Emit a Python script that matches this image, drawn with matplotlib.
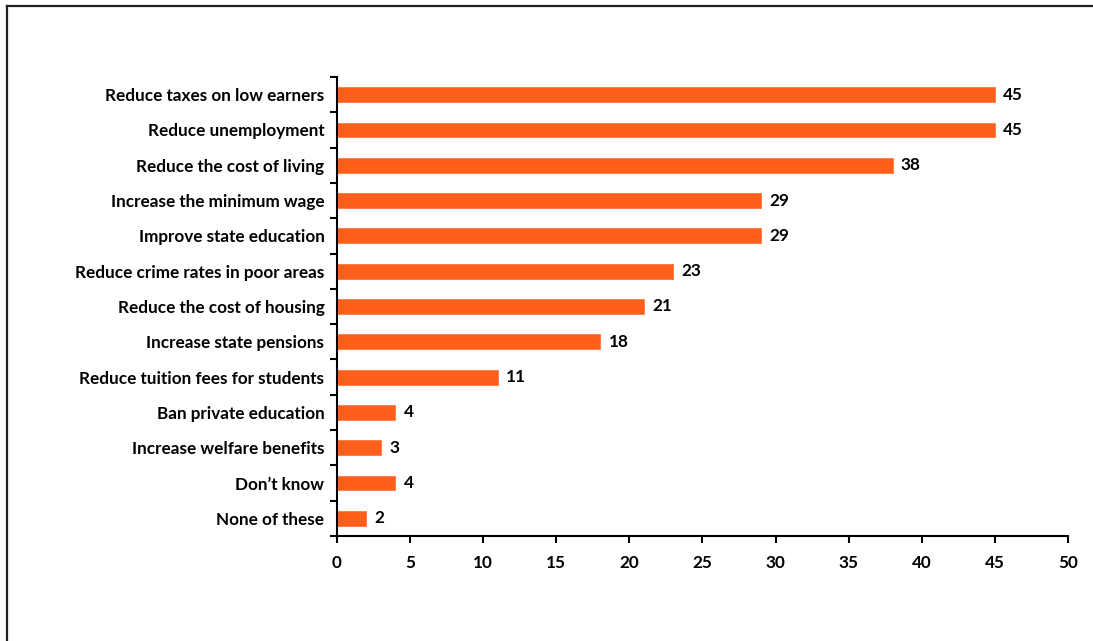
import matplotlib
matplotlib.use('Agg')
import matplotlib.pyplot as plt
from matplotlib.lines import Line2D
import numpy as np

plt.rcParams['font.family'] = ['Lato', 'DejaVu Sans']
plt.rcParams['font.weight'] = 'bold'

categorias = ['Reduce taxes on low earners', 'Reduce unemployment',
              'Reduce the cost of living', 'Increase the minimum wage',
              'Improve state education', 'Reduce crime rates in poor areas',
              'Reduce the cost of housing', 'Increase state pensions',
              'Reduce tuition fees for students', 'Ban private education',
              'Increase welfare benefits', 'Don\u2019t know', 'None of these']
valores = [45, 45, 38, 29, 29, 23, 21, 18, 11, 4, 3, 4, 2]
xticks = [0, 5, 10, 15, 20, 25, 30, 35, 40, 45, 50]

fs = 12.3
fig = plt.figure(figsize=(10.93, 6.41), dpi=100)
ax = fig.add_axes([0.3083, 0.1638, 0.6688, 0.7161])

y = np.arange(len(categorias))
ax.barh(y, valores, height=0.42, color='#FF5F1A', edgecolor='#FF7A40',
        linewidth=0.6, zorder=2)
for yi, v in zip(y, valores):
    ax.annotate(str(v), (v, yi), xytext=(6, 0), textcoords='offset points',
                va='center', ha='left', fontsize=fs, fontweight='bold')

ax.set_ylim(len(categorias) - 0.5, -0.5)
ax.set_xlim(0, 50)
ax.set_xticks(xticks)
ax.set_xticklabels([str(t) for t in xticks], fontsize=fs, fontweight='bold')
ax.tick_params(axis='x', direction='out', length=5, width=1.5, pad=9)

# etiquetas de categoria sin marca, marcas en los limites entre barras
ax.set_yticks(y)
ax.set_yticklabels(categorias, fontsize=fs, fontweight='bold')
ax.set_yticks(np.arange(-0.5, len(categorias), 1), minor=True)
ax.tick_params(axis='y', which='major', length=0, pad=9)
ax.tick_params(axis='y', which='minor', direction='out', length=5, width=1.5)

for s in ['top', 'right']:
    ax.spines[s].set_visible(False)
for s in ['left', 'bottom']:
    ax.spines[s].set_linewidth(1.5)

# marco del grafico
fig.add_artist(Line2D([0.0064, 0.0064], [0.0, 0.9906], color='#222222',
                      linewidth=1.6, transform=fig.transFigure))
fig.add_artist(Line2D([0.0064, 1.0], [0.9906, 0.9906], color='#222222',
                      linewidth=1.6, transform=fig.transFigure))

plt.savefig('out.png', dpi=100)
plt.close(fig)
